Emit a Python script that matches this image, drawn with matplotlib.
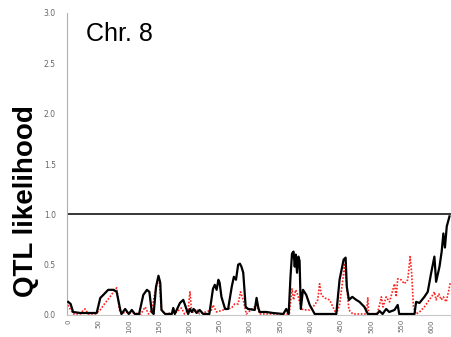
import matplotlib
matplotlib.use("Agg")
import matplotlib.pyplot as plt

# Black solid line (QTL likelihood, series 1)
black_x = [0, 4, 8, 20, 35, 47, 53, 58, 66, 75, 80, 86, 88, 94, 100, 105, 110, 117, 124, 130, 134, 138, 141,
           145, 149, 152, 154, 160, 171, 173.5, 176, 184.5, 190, 194, 198, 201, 204, 207, 212, 217, 223, 233,
           239, 242, 245, 248, 250, 253, 259, 264, 270, 273.5, 277, 280.6, 283.4, 286, 289, 293, 297, 308,
           311, 313.6, 316, 327, 338, 355, 360, 364, 367, 369.5, 372, 374, 375.6, 377.8, 380, 382, 384,
           387.6, 393, 398.7, 407, 425, 442.6, 448, 454.7, 458, 460, 463.5, 469, 475.6, 481, 489, 494.7,
           510, 514, 519, 525, 530, 538.7, 544, 546.5, 560, 571.7, 574.4, 580, 588, 593.6, 599, 604.6,
           607.4, 613, 616.6, 619.4, 622, 625, 629.5]
black_y = [0.13, 0.11, 0.03, 0.02, 0.02, 0.02, 0.17, 0.20, 0.25, 0.25, 0.23, 0.05, 0.01, 0.06, 0.01, 0.05, 0.01, 0.01,
           0.20, 0.25, 0.23, 0.03, 0.01, 0.28, 0.39, 0.32, 0.05, 0.01, 0.01, 0.07, 0.01, 0.12, 0.15, 0.08,
           0.01, 0.06, 0.03, 0.06, 0.02, 0.05, 0.01, 0.01, 0.26, 0.30, 0.25, 0.35, 0.32, 0.18, 0.06, 0.06,
           0.28, 0.38, 0.35, 0.50, 0.51, 0.48, 0.42, 0.08, 0.06, 0.05, 0.17, 0.08, 0.03, 0.03, 0.02, 0.01,
           0.06, 0.01, 0.38, 0.61, 0.63, 0.48, 0.60, 0.42, 0.58, 0.54, 0.06, 0.25, 0.20, 0.10, 0.01, 0.01,
           0.01, 0.35, 0.55, 0.57, 0.28, 0.15, 0.18, 0.15, 0.13, 0.08, 0.01, 0.01, 0.04, 0.01, 0.06, 0.03,
           0.05, 0.10, 0.01, 0.01, 0.01, 0.13, 0.12, 0.18, 0.23, 0.41, 0.58, 0.33, 0.48, 0.63, 0.81, 0.67,
           0.88, 0.98]

# Red dotted line (QTL likelihood, series 2)
red_x = [0, 4, 9, 20, 25, 28, 33, 45, 52.7, 61, 69, 77, 80, 84.6, 88, 94, 105, 120, 127, 132.6, 138, 143, 147,
         150.5, 154, 160, 179, 187, 192, 198, 201, 204, 212, 217, 236.7, 239, 245, 256, 269.7, 275, 280.6,
         284.5, 289, 294, 311, 316, 338, 365, 369.5, 372, 375.6, 379, 385, 390, 398.7, 407, 412, 415, 418,
         423, 431.6, 437, 442.6, 448, 453.6, 456, 459, 463.5, 470, 492, 494.7, 496, 510, 514, 517, 519.8,
         525, 530.5, 536, 538.7, 541.5, 544, 549.6, 555, 560.6, 564.5, 567, 570, 574.4, 580, 588, 596, 602,
         604.6, 607.4, 612, 616, 619.4, 624, 628.5, 631]
red_y = [0.10, 0.05, 0.01, 0.01, 0.05, 0.06, 0.01, 0.01, 0.05, 0.12, 0.18, 0.25, 0.27, 0.05, 0.01, 0.03, 0.02, 0.01,
         0.08, 0.01, 0.05, 0.22, 0.33, 0.32, 0.05, 0.01, 0.03, 0.07, 0.01, 0.05, 0.23, 0.02, 0.06, 0.01,
         0.05, 0.10, 0.03, 0.05, 0.07, 0.11, 0.11, 0.23, 0.15, 0.01, 0.10, 0.01, 0.01, 0.01, 0.26, 0.15,
         0.25, 0.20, 0.06, 0.05, 0.05, 0.10, 0.15, 0.31, 0.20, 0.17, 0.15, 0.08, 0.01, 0.10, 0.36, 0.50,
         0.33, 0.05, 0.01, 0.01, 0.17, 0.01, 0.01, 0.10, 0.18, 0.08, 0.18, 0.13, 0.25, 0.31, 0.18, 0.36,
         0.35, 0.31, 0.35, 0.58, 0.42, 0.08, 0.01, 0.03, 0.08, 0.15, 0.20, 0.23, 0.15, 0.21, 0.15, 0.18,
         0.13, 0.25, 0.33]

threshold = 1.0
x_ticks = list(range(0, 601, 50))
y_ticks = [0.0, 0.5, 1.0, 1.5, 2.0, 2.5, 3.0]
title_text = "Chr. 8"
ylabel_text = "QTL likelihood"

plt.rcParams['font.family'] = ['Liberation Sans', 'DejaVu Sans']

fig = plt.figure(figsize=(4.51, 3.37), dpi=100)
ax = fig.add_axes([67 / 451, 1 - 315 / 337, 384 / 451, 302 / 337])

ax.plot(red_x, red_y, color='#ff2020', lw=1.2, ls=(0, (1, 1)), zorder=2)
ax.plot(black_x, black_y, color='black', lw=1.6, zorder=3)
ax.axhline(threshold, color='black', lw=1.1, zorder=1)

ax.set_xlim(-2, 632)
ax.set_ylim(0, 3.0)
ax.set_xticks(x_ticks)
ax.set_xticklabels([str(v) for v in x_ticks], rotation=90, fontsize=5, color='#666666',
                   fontfamily='DejaVu Sans')
ax.set_yticks(y_ticks)
ax.set_yticklabels([f"{v:.1f}" for v in y_ticks], fontsize=5.5, color='#666666',
                   fontfamily='DejaVu Sans')
ax.tick_params(axis='both', length=0, pad=3)
ax.tick_params(axis='y', pad=8)

for s in ['top', 'right']:
    ax.spines[s].set_visible(False)
ax.spines['left'].set_color('#b0b0b0')
ax.spines['bottom'].set_color('#c8c8c8')
ax.spines['left'].set_linewidth(0.8)
ax.spines['bottom'].set_linewidth(0.8)

fig.text(86 / 451, 1 - 34 / 337, title_text, fontsize=18, va='center', ha='left', color='black')
fig.text(26 / 451, 1 - 201 / 337, ylabel_text, fontsize=20, fontweight='bold', rotation=90,
         va='center', ha='center', color='black')

fig.savefig("out.png", dpi=100)
